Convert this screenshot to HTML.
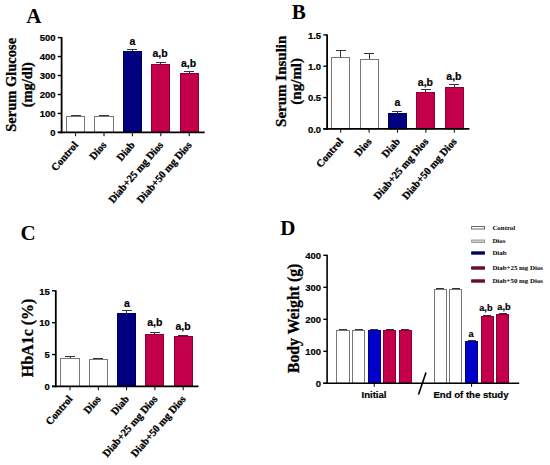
<!DOCTYPE html>
<html><head><meta charset="utf-8"><style>
html,body{margin:0;padding:0;background:#fff;width:550px;height:465px;overflow:hidden}
svg{display:block}
</style></head><body>
<svg width="550" height="465" viewBox="0 0 550 465">
<rect x="0" y="0" width="550" height="465" fill="#fff"/>
<line x1="71.00" y1="115.50" x2="81.00" y2="115.50" stroke="#333" stroke-width="1"/>
<rect x="66.50" y="116.50" width="18.00" height="15.90" fill="#fff" stroke="#777777" stroke-width="1"/>
<line x1="75.60" y1="132.40" x2="75.60" y2="136.20" stroke="#000" stroke-width="1"/>
<text x="0.00" y="0.00" font-family='"Liberation Serif", serif' font-size="10.5" font-weight="bold" text-anchor="end" fill="#000" transform="translate(78.60 145.40) rotate(-49)" stroke="#000" stroke-width="0.3">Control</text>
<line x1="99.00" y1="115.50" x2="109.00" y2="115.50" stroke="#333" stroke-width="1"/>
<rect x="94.50" y="116.50" width="19.00" height="15.90" fill="#fff" stroke="#777777" stroke-width="1"/>
<line x1="104.00" y1="132.40" x2="104.00" y2="136.20" stroke="#000" stroke-width="1"/>
<text x="0.00" y="0.00" font-family='"Liberation Serif", serif' font-size="10.5" font-weight="bold" text-anchor="end" fill="#000" transform="translate(107.00 145.40) rotate(-49)" stroke="#000" stroke-width="0.3">Dios</text>
<line x1="132.50" y1="49.50" x2="132.50" y2="51.00" stroke="#333" stroke-width="1"/>
<line x1="127.00" y1="49.50" x2="137.00" y2="49.50" stroke="#333" stroke-width="1"/>
<rect x="123.50" y="51.50" width="18.00" height="80.90" fill="#000080" stroke="#000058" stroke-width="1"/>
<text x="132.30" y="45.40" font-family='"Liberation Sans", sans-serif' font-size="10.5" font-weight="bold" text-anchor="middle" fill="#000" stroke="#000" stroke-width="0.2">a</text>
<line x1="132.40" y1="132.40" x2="132.40" y2="136.20" stroke="#000" stroke-width="1"/>
<text x="0.00" y="0.00" font-family='"Liberation Serif", serif' font-size="10.5" font-weight="bold" text-anchor="end" fill="#000" transform="translate(135.40 145.40) rotate(-49)" stroke="#000" stroke-width="0.3">Diab</text>
<line x1="160.50" y1="62.50" x2="160.50" y2="64.00" stroke="#333" stroke-width="1"/>
<line x1="156.00" y1="62.50" x2="166.00" y2="62.50" stroke="#333" stroke-width="1"/>
<rect x="151.50" y="64.50" width="18.00" height="67.90" fill="#c4004c" stroke="#8a0035" stroke-width="1"/>
<text x="160.10" y="57.40" font-family='"Liberation Sans", sans-serif' font-size="10.5" font-weight="bold" text-anchor="middle" fill="#000" stroke="#000" stroke-width="0.2">a,b</text>
<line x1="160.80" y1="132.40" x2="160.80" y2="136.20" stroke="#000" stroke-width="1"/>
<text x="0.00" y="0.00" font-family='"Liberation Serif", serif' font-size="10.5" font-weight="bold" text-anchor="end" fill="#000" transform="translate(163.80 145.40) rotate(-49)" stroke="#000" stroke-width="0.3">Diab+25 mg Dios</text>
<line x1="189.50" y1="71.50" x2="189.50" y2="73.00" stroke="#333" stroke-width="1"/>
<line x1="184.00" y1="71.50" x2="194.00" y2="71.50" stroke="#333" stroke-width="1"/>
<rect x="180.50" y="73.50" width="18.00" height="58.90" fill="#c4004c" stroke="#8a0035" stroke-width="1"/>
<text x="188.60" y="66.50" font-family='"Liberation Sans", sans-serif' font-size="10.5" font-weight="bold" text-anchor="middle" fill="#000" stroke="#000" stroke-width="0.2">a,b</text>
<line x1="189.20" y1="132.40" x2="189.20" y2="136.20" stroke="#000" stroke-width="1"/>
<text x="0.00" y="0.00" font-family='"Liberation Serif", serif' font-size="10.5" font-weight="bold" text-anchor="end" fill="#000" transform="translate(192.20 145.40) rotate(-49)" stroke="#000" stroke-width="0.3">Diab+50 mg Dios</text>
<line x1="61.60" y1="37.10" x2="61.60" y2="133.30" stroke="#000" stroke-width="1.8"/>
<line x1="57.80" y1="132.40" x2="204.70" y2="132.40" stroke="#000" stroke-width="1.8"/>
<line x1="57.80" y1="132.40" x2="61.60" y2="132.40" stroke="#000" stroke-width="1.4"/>
<text x="55.60" y="136.10" font-family='"Liberation Sans", sans-serif' font-size="9.5" font-weight="bold" text-anchor="end" fill="#000" stroke="#000" stroke-width="0.2">0</text>
<line x1="57.80" y1="113.44" x2="61.60" y2="113.44" stroke="#000" stroke-width="1.4"/>
<text x="55.60" y="117.14" font-family='"Liberation Sans", sans-serif' font-size="9.5" font-weight="bold" text-anchor="end" fill="#000" stroke="#000" stroke-width="0.2">100</text>
<line x1="57.80" y1="94.48" x2="61.60" y2="94.48" stroke="#000" stroke-width="1.4"/>
<text x="55.60" y="98.18" font-family='"Liberation Sans", sans-serif' font-size="9.5" font-weight="bold" text-anchor="end" fill="#000" stroke="#000" stroke-width="0.2">200</text>
<line x1="57.80" y1="75.52" x2="61.60" y2="75.52" stroke="#000" stroke-width="1.4"/>
<text x="55.60" y="79.22" font-family='"Liberation Sans", sans-serif' font-size="9.5" font-weight="bold" text-anchor="end" fill="#000" stroke="#000" stroke-width="0.2">300</text>
<line x1="57.80" y1="56.56" x2="61.60" y2="56.56" stroke="#000" stroke-width="1.4"/>
<text x="55.60" y="60.26" font-family='"Liberation Sans", sans-serif' font-size="9.5" font-weight="bold" text-anchor="end" fill="#000" stroke="#000" stroke-width="0.2">400</text>
<line x1="57.80" y1="37.60" x2="61.60" y2="37.60" stroke="#000" stroke-width="1.4"/>
<text x="55.60" y="41.30" font-family='"Liberation Sans", sans-serif' font-size="9.5" font-weight="bold" text-anchor="end" fill="#000" stroke="#000" stroke-width="0.2">500</text>
<text x="0.00" y="0.00" font-family='"Liberation Serif", serif' font-size="14.5" font-weight="bold" text-anchor="middle" fill="#000" transform="translate(16.30 84.80) rotate(-90)" stroke="#000" stroke-width="0.3">Serum Glucose</text>
<text x="0.00" y="0.00" font-family='"Liberation Serif", serif' font-size="14.5" font-weight="bold" text-anchor="middle" fill="#000" transform="translate(32.40 84.80) rotate(-90)" stroke="#000" stroke-width="0.3">(mg/dl)</text>
<text x="26.30" y="22.80" font-family='"Liberation Serif", serif' font-size="21" font-weight="bold" text-anchor="start" fill="#000">A</text>
<line x1="340.50" y1="50.50" x2="340.50" y2="57.00" stroke="#333" stroke-width="1"/>
<line x1="336.00" y1="50.50" x2="346.00" y2="50.50" stroke="#333" stroke-width="1"/>
<rect x="331.50" y="57.50" width="18.00" height="71.40" fill="#fff" stroke="#777777" stroke-width="1"/>
<line x1="340.70" y1="128.90" x2="340.70" y2="132.70" stroke="#000" stroke-width="1"/>
<text x="0.00" y="0.00" font-family='"Liberation Serif", serif' font-size="10.5" font-weight="bold" text-anchor="end" fill="#000" transform="translate(343.70 141.90) rotate(-49)" stroke="#000" stroke-width="0.3">Control</text>
<line x1="369.50" y1="53.50" x2="369.50" y2="59.00" stroke="#333" stroke-width="1"/>
<line x1="364.00" y1="53.50" x2="374.00" y2="53.50" stroke="#333" stroke-width="1"/>
<rect x="360.50" y="59.50" width="18.00" height="69.40" fill="#fff" stroke="#777777" stroke-width="1"/>
<line x1="369.10" y1="128.90" x2="369.10" y2="132.70" stroke="#000" stroke-width="1"/>
<text x="0.00" y="0.00" font-family='"Liberation Serif", serif' font-size="10.5" font-weight="bold" text-anchor="end" fill="#000" transform="translate(372.10 141.90) rotate(-49)" stroke="#000" stroke-width="0.3">Dios</text>
<line x1="397.50" y1="111.50" x2="397.50" y2="113.00" stroke="#333" stroke-width="1"/>
<line x1="392.00" y1="111.50" x2="402.00" y2="111.50" stroke="#333" stroke-width="1"/>
<rect x="388.50" y="113.50" width="18.00" height="15.40" fill="#000080" stroke="#000058" stroke-width="1"/>
<text x="397.30" y="105.60" font-family='"Liberation Sans", sans-serif' font-size="10.5" font-weight="bold" text-anchor="middle" fill="#000" stroke="#000" stroke-width="0.2">a</text>
<line x1="397.50" y1="128.90" x2="397.50" y2="132.70" stroke="#000" stroke-width="1"/>
<text x="0.00" y="0.00" font-family='"Liberation Serif", serif' font-size="10.5" font-weight="bold" text-anchor="end" fill="#000" transform="translate(400.50 141.90) rotate(-49)" stroke="#000" stroke-width="0.3">Diab</text>
<line x1="425.50" y1="89.50" x2="425.50" y2="92.00" stroke="#333" stroke-width="1"/>
<line x1="421.00" y1="89.50" x2="431.00" y2="89.50" stroke="#333" stroke-width="1"/>
<rect x="416.50" y="92.50" width="18.00" height="36.40" fill="#c4004c" stroke="#8a0035" stroke-width="1"/>
<text x="425.40" y="85.60" font-family='"Liberation Sans", sans-serif' font-size="10.5" font-weight="bold" text-anchor="middle" fill="#000" stroke="#000" stroke-width="0.2">a,b</text>
<line x1="425.90" y1="128.90" x2="425.90" y2="132.70" stroke="#000" stroke-width="1"/>
<text x="0.00" y="0.00" font-family='"Liberation Serif", serif' font-size="10.5" font-weight="bold" text-anchor="end" fill="#000" transform="translate(428.90 141.90) rotate(-49)" stroke="#000" stroke-width="0.3">Diab+25 mg Dios</text>
<line x1="454.50" y1="84.50" x2="454.50" y2="87.00" stroke="#333" stroke-width="1"/>
<line x1="449.00" y1="84.50" x2="459.00" y2="84.50" stroke="#333" stroke-width="1"/>
<rect x="445.50" y="87.50" width="18.00" height="41.40" fill="#c4004c" stroke="#8a0035" stroke-width="1"/>
<text x="453.90" y="79.60" font-family='"Liberation Sans", sans-serif' font-size="10.5" font-weight="bold" text-anchor="middle" fill="#000" stroke="#000" stroke-width="0.2">a,b</text>
<line x1="454.30" y1="128.90" x2="454.30" y2="132.70" stroke="#000" stroke-width="1"/>
<text x="0.00" y="0.00" font-family='"Liberation Serif", serif' font-size="10.5" font-weight="bold" text-anchor="end" fill="#000" transform="translate(457.30 141.90) rotate(-49)" stroke="#000" stroke-width="0.3">Diab+50 mg Dios</text>
<line x1="327.10" y1="34.40" x2="327.10" y2="129.80" stroke="#000" stroke-width="1.8"/>
<line x1="323.30" y1="128.90" x2="469.40" y2="128.90" stroke="#000" stroke-width="1.8"/>
<line x1="323.30" y1="128.90" x2="327.10" y2="128.90" stroke="#000" stroke-width="1.4"/>
<text x="321.10" y="132.60" font-family='"Liberation Sans", sans-serif' font-size="9.5" font-weight="bold" text-anchor="end" fill="#000" stroke="#000" stroke-width="0.2">0.0</text>
<line x1="323.30" y1="97.57" x2="327.10" y2="97.57" stroke="#000" stroke-width="1.4"/>
<text x="321.10" y="101.27" font-family='"Liberation Sans", sans-serif' font-size="9.5" font-weight="bold" text-anchor="end" fill="#000" stroke="#000" stroke-width="0.2">0.5</text>
<line x1="323.30" y1="66.23" x2="327.10" y2="66.23" stroke="#000" stroke-width="1.4"/>
<text x="321.10" y="69.93" font-family='"Liberation Sans", sans-serif' font-size="9.5" font-weight="bold" text-anchor="end" fill="#000" stroke="#000" stroke-width="0.2">1.0</text>
<line x1="323.30" y1="34.90" x2="327.10" y2="34.90" stroke="#000" stroke-width="1.4"/>
<text x="321.10" y="38.60" font-family='"Liberation Sans", sans-serif' font-size="9.5" font-weight="bold" text-anchor="end" fill="#000" stroke="#000" stroke-width="0.2">1.5</text>
<text x="0.00" y="0.00" font-family='"Liberation Serif", serif' font-size="15" font-weight="bold" text-anchor="middle" fill="#000" transform="translate(286.00 81.30) rotate(-90)" stroke="#000" stroke-width="0.3">Serum Insulin</text>
<text x="0.00" y="0.00" font-family='"Liberation Serif", serif' font-size="15" font-weight="bold" text-anchor="middle" fill="#000" transform="translate(300.90 81.30) rotate(-90)" stroke="#000" stroke-width="0.3">(ng/ml)</text>
<text x="291.80" y="19.30" font-family='"Liberation Serif", serif' font-size="21" font-weight="bold" text-anchor="start" fill="#000">B</text>
<line x1="70.50" y1="356.50" x2="70.50" y2="358.00" stroke="#333" stroke-width="1"/>
<line x1="65.00" y1="356.50" x2="75.00" y2="356.50" stroke="#333" stroke-width="1"/>
<rect x="60.50" y="358.50" width="19.00" height="27.90" fill="#fff" stroke="#777777" stroke-width="1"/>
<line x1="70.00" y1="386.40" x2="70.00" y2="390.20" stroke="#000" stroke-width="1"/>
<text x="0.00" y="0.00" font-family='"Liberation Serif", serif' font-size="10.5" font-weight="bold" text-anchor="end" fill="#000" transform="translate(73.00 399.40) rotate(-49)" stroke="#000" stroke-width="0.3">Control</text>
<line x1="93.00" y1="358.50" x2="103.00" y2="358.50" stroke="#333" stroke-width="1"/>
<rect x="89.50" y="359.50" width="18.00" height="26.90" fill="#fff" stroke="#777777" stroke-width="1"/>
<line x1="98.30" y1="386.40" x2="98.30" y2="390.20" stroke="#000" stroke-width="1"/>
<text x="0.00" y="0.00" font-family='"Liberation Serif", serif' font-size="10.5" font-weight="bold" text-anchor="end" fill="#000" transform="translate(101.30 399.40) rotate(-49)" stroke="#000" stroke-width="0.3">Dios</text>
<line x1="126.50" y1="310.50" x2="126.50" y2="313.00" stroke="#333" stroke-width="1"/>
<line x1="122.00" y1="310.50" x2="132.00" y2="310.50" stroke="#333" stroke-width="1"/>
<rect x="117.50" y="313.50" width="18.00" height="72.90" fill="#000080" stroke="#000058" stroke-width="1"/>
<text x="126.90" y="306.80" font-family='"Liberation Sans", sans-serif' font-size="10.5" font-weight="bold" text-anchor="middle" fill="#000" stroke="#000" stroke-width="0.2">a</text>
<line x1="126.60" y1="386.40" x2="126.60" y2="390.20" stroke="#000" stroke-width="1"/>
<text x="0.00" y="0.00" font-family='"Liberation Serif", serif' font-size="10.5" font-weight="bold" text-anchor="end" fill="#000" transform="translate(129.60 399.40) rotate(-49)" stroke="#000" stroke-width="0.3">Diab</text>
<line x1="154.50" y1="332.50" x2="154.50" y2="334.00" stroke="#333" stroke-width="1"/>
<line x1="150.00" y1="332.50" x2="160.00" y2="332.50" stroke="#333" stroke-width="1"/>
<rect x="145.50" y="334.50" width="18.00" height="51.90" fill="#c4004c" stroke="#8a0035" stroke-width="1"/>
<text x="154.80" y="325.60" font-family='"Liberation Sans", sans-serif' font-size="10.5" font-weight="bold" text-anchor="middle" fill="#000" stroke="#000" stroke-width="0.2">a,b</text>
<line x1="154.90" y1="386.40" x2="154.90" y2="390.20" stroke="#000" stroke-width="1"/>
<text x="0.00" y="0.00" font-family='"Liberation Serif", serif' font-size="10.5" font-weight="bold" text-anchor="end" fill="#000" transform="translate(157.90 399.40) rotate(-49)" stroke="#000" stroke-width="0.3">Diab+25 mg Dios</text>
<line x1="178.00" y1="335.50" x2="188.00" y2="335.50" stroke="#333" stroke-width="1"/>
<rect x="174.50" y="336.50" width="18.00" height="49.90" fill="#c4004c" stroke="#8a0035" stroke-width="1"/>
<text x="183.10" y="330.10" font-family='"Liberation Sans", sans-serif' font-size="10.5" font-weight="bold" text-anchor="middle" fill="#000" stroke="#000" stroke-width="0.2">a,b</text>
<line x1="183.20" y1="386.40" x2="183.20" y2="390.20" stroke="#000" stroke-width="1"/>
<text x="0.00" y="0.00" font-family='"Liberation Serif", serif' font-size="10.5" font-weight="bold" text-anchor="end" fill="#000" transform="translate(186.20 399.40) rotate(-49)" stroke="#000" stroke-width="0.3">Diab+50 mg Dios</text>
<line x1="55.80" y1="290.30" x2="55.80" y2="387.30" stroke="#000" stroke-width="1.8"/>
<line x1="52.00" y1="386.40" x2="198.50" y2="386.40" stroke="#000" stroke-width="1.8"/>
<line x1="52.00" y1="386.40" x2="55.80" y2="386.40" stroke="#000" stroke-width="1.4"/>
<text x="49.80" y="390.10" font-family='"Liberation Sans", sans-serif' font-size="9.5" font-weight="bold" text-anchor="end" fill="#000" stroke="#000" stroke-width="0.2">0</text>
<line x1="52.00" y1="354.53" x2="55.80" y2="354.53" stroke="#000" stroke-width="1.4"/>
<text x="49.80" y="358.23" font-family='"Liberation Sans", sans-serif' font-size="9.5" font-weight="bold" text-anchor="end" fill="#000" stroke="#000" stroke-width="0.2">5</text>
<line x1="52.00" y1="322.67" x2="55.80" y2="322.67" stroke="#000" stroke-width="1.4"/>
<text x="49.80" y="326.37" font-family='"Liberation Sans", sans-serif' font-size="9.5" font-weight="bold" text-anchor="end" fill="#000" stroke="#000" stroke-width="0.2">10</text>
<line x1="52.00" y1="290.80" x2="55.80" y2="290.80" stroke="#000" stroke-width="1.4"/>
<text x="49.80" y="294.50" font-family='"Liberation Sans", sans-serif' font-size="9.5" font-weight="bold" text-anchor="end" fill="#000" stroke="#000" stroke-width="0.2">15</text>
<text x="0.00" y="0.00" font-family='"Liberation Serif", serif' font-size="16" font-weight="bold" text-anchor="middle" fill="#000" transform="translate(32.50 337.90) rotate(-90)" stroke="#000" stroke-width="0.3">HbA1c (%)</text>
<text x="20.50" y="240.20" font-family='"Liberation Serif", serif' font-size="21" font-weight="bold" text-anchor="start" fill="#000">C</text>
<line x1="339.00" y1="329.50" x2="347.00" y2="329.50" stroke="#333" stroke-width="1"/>
<rect x="336.50" y="330.50" width="13.00" height="52.80" fill="#fff" stroke="#777777" stroke-width="1"/>
<line x1="355.00" y1="329.50" x2="363.00" y2="329.50" stroke="#333" stroke-width="1"/>
<rect x="352.50" y="330.50" width="12.00" height="52.80" fill="#fff" stroke="#777777" stroke-width="1"/>
<line x1="370.00" y1="329.50" x2="378.00" y2="329.50" stroke="#333" stroke-width="1"/>
<rect x="368.50" y="330.50" width="12.00" height="52.80" fill="#0000c8" stroke="#00008a" stroke-width="1"/>
<line x1="386.00" y1="329.50" x2="394.00" y2="329.50" stroke="#333" stroke-width="1"/>
<rect x="383.50" y="330.50" width="12.00" height="52.80" fill="#c4004c" stroke="#8a0035" stroke-width="1"/>
<line x1="401.00" y1="329.50" x2="409.00" y2="329.50" stroke="#333" stroke-width="1"/>
<rect x="399.50" y="330.50" width="12.00" height="52.80" fill="#c4004c" stroke="#8a0035" stroke-width="1"/>
<line x1="374.24" y1="383.30" x2="374.24" y2="386.80" stroke="#000" stroke-width="1"/>
<line x1="436.00" y1="288.50" x2="444.00" y2="288.50" stroke="#333" stroke-width="1"/>
<rect x="434.50" y="289.50" width="12.00" height="93.80" fill="#fff" stroke="#777777" stroke-width="1"/>
<line x1="452.00" y1="288.50" x2="460.00" y2="288.50" stroke="#333" stroke-width="1"/>
<rect x="449.50" y="289.50" width="12.00" height="93.80" fill="#fff" stroke="#777777" stroke-width="1"/>
<line x1="468.00" y1="340.50" x2="476.00" y2="340.50" stroke="#333" stroke-width="1"/>
<rect x="465.50" y="341.50" width="12.00" height="41.80" fill="#0000c8" stroke="#00008a" stroke-width="1"/>
<text x="471.00" y="337.00" font-family='"Liberation Sans", sans-serif' font-size="9.2" font-weight="bold" text-anchor="middle" fill="#000" stroke="#000" stroke-width="0.2">a</text>
<line x1="483.00" y1="315.50" x2="491.00" y2="315.50" stroke="#333" stroke-width="1"/>
<rect x="481.50" y="316.50" width="12.00" height="66.80" fill="#c4004c" stroke="#8a0035" stroke-width="1"/>
<text x="485.90" y="310.50" font-family='"Liberation Sans", sans-serif' font-size="9.2" font-weight="bold" text-anchor="middle" fill="#000" stroke="#000" stroke-width="0.2">a,b</text>
<line x1="499.00" y1="313.50" x2="507.00" y2="313.50" stroke="#333" stroke-width="1"/>
<rect x="496.50" y="314.50" width="12.00" height="68.80" fill="#c4004c" stroke="#8a0035" stroke-width="1"/>
<text x="504.00" y="309.50" font-family='"Liberation Sans", sans-serif' font-size="9.2" font-weight="bold" text-anchor="middle" fill="#000" stroke="#000" stroke-width="0.2">a,b</text>
<line x1="471.59" y1="383.30" x2="471.59" y2="386.80" stroke="#000" stroke-width="1"/>
<line x1="327.10" y1="254.80" x2="327.10" y2="384.10" stroke="#000" stroke-width="1.6"/>
<line x1="323.30" y1="383.30" x2="519.20" y2="383.30" stroke="#000" stroke-width="1.5"/>
<line x1="323.30" y1="383.30" x2="327.10" y2="383.30" stroke="#000" stroke-width="1.4"/>
<text x="321.10" y="387.00" font-family='"Liberation Sans", sans-serif' font-size="9.5" font-weight="bold" text-anchor="end" fill="#000" stroke="#000" stroke-width="0.2">0</text>
<line x1="323.30" y1="351.30" x2="327.10" y2="351.30" stroke="#000" stroke-width="1.4"/>
<text x="321.10" y="355.00" font-family='"Liberation Sans", sans-serif' font-size="9.5" font-weight="bold" text-anchor="end" fill="#000" stroke="#000" stroke-width="0.2">100</text>
<line x1="323.30" y1="319.30" x2="327.10" y2="319.30" stroke="#000" stroke-width="1.4"/>
<text x="321.10" y="323.00" font-family='"Liberation Sans", sans-serif' font-size="9.5" font-weight="bold" text-anchor="end" fill="#000" stroke="#000" stroke-width="0.2">200</text>
<line x1="323.30" y1="287.30" x2="327.10" y2="287.30" stroke="#000" stroke-width="1.4"/>
<text x="321.10" y="291.00" font-family='"Liberation Sans", sans-serif' font-size="9.5" font-weight="bold" text-anchor="end" fill="#000" stroke="#000" stroke-width="0.2">300</text>
<line x1="323.30" y1="255.30" x2="327.10" y2="255.30" stroke="#000" stroke-width="1.4"/>
<text x="321.10" y="259.00" font-family='"Liberation Sans", sans-serif' font-size="9.5" font-weight="bold" text-anchor="end" fill="#000" stroke="#000" stroke-width="0.2">400</text>
<line x1="426.00" y1="372.50" x2="418.50" y2="394.50" stroke="#000" stroke-width="1.6"/>
<text x="374.00" y="397.90" font-family='"Liberation Sans", sans-serif' font-size="9.6" font-weight="bold" text-anchor="middle" fill="#000" stroke="#000" stroke-width="0.2">Initial</text>
<text x="471.00" y="397.90" font-family='"Liberation Sans", sans-serif' font-size="9.6" font-weight="bold" text-anchor="middle" fill="#000" stroke="#000" stroke-width="0.2">End of the study</text>
<text x="0.00" y="0.00" font-family='"Liberation Serif", serif' font-size="15.8" font-weight="bold" text-anchor="middle" fill="#000" transform="translate(298.60 318.40) rotate(-90)" stroke="#000" stroke-width="0.3">Body Weight (g)</text>
<text x="280.30" y="234.60" font-family='"Liberation Serif", serif' font-size="21" font-weight="bold" text-anchor="start" fill="#000">D</text>
<rect x="471.60" y="226.60" width="13.00" height="2.40" fill="#fff" stroke="#444" stroke-width="0.8"/>
<text x="492.40" y="229.70" font-family='"Liberation Serif", serif' font-size="6.9" font-weight="bold" text-anchor="start" fill="#000">Control</text>
<rect x="471.60" y="240.00" width="13.00" height="2.40" fill="#d0d0d0" stroke="#888" stroke-width="0.8"/>
<text x="492.40" y="243.10" font-family='"Liberation Serif", serif' font-size="6.9" font-weight="bold" text-anchor="start" fill="#000">Dios</text>
<rect x="471.60" y="251.80" width="13.00" height="2.40" fill="#000070" stroke="#000050" stroke-width="0.8"/>
<text x="492.40" y="254.90" font-family='"Liberation Serif", serif' font-size="6.9" font-weight="bold" text-anchor="start" fill="#000">Diab</text>
<rect x="471.60" y="266.80" width="13.00" height="2.40" fill="#7a0a30" stroke="#500020" stroke-width="0.8"/>
<text x="492.40" y="269.90" font-family='"Liberation Serif", serif' font-size="6.9" font-weight="bold" text-anchor="start" fill="#000">Diab+25 mg Dios</text>
<rect x="471.60" y="279.80" width="13.00" height="2.40" fill="#7a0a30" stroke="#500020" stroke-width="0.8"/>
<text x="492.40" y="282.90" font-family='"Liberation Serif", serif' font-size="6.9" font-weight="bold" text-anchor="start" fill="#000">Diab+50 mg Dios</text>
</svg>
</body></html>
